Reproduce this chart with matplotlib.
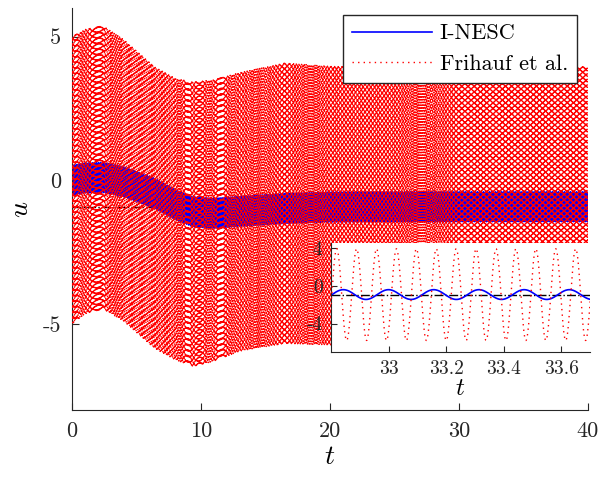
import numpy as np
import matplotlib.pyplot as plt

plt.rcParams['font.family'] = 'serif'
plt.rcParams['font.serif'] = ['cmr10']
plt.rcParams['mathtext.fontset'] = 'cm'
plt.rcParams['axes.unicode_minus'] = False
plt.rcParams['axes.formatter.use_mathtext'] = True

# === ENVELOPE KNOTS ===
t_knots = [0, 1, 2.4, 4, 6.4, 8, 9.4, 11, 13, 16.5, 20, 25, 30, 40]

# Frihauf et al. (red): slow centre + dither amplitude
red_center = [0.0, 0.3, 0.45, 0.0, -0.95, -1.35, -1.53, -1.4, -1.1, -0.8, -0.88, -0.95, -0.93, -0.92]
red_amp = [5.0, 4.95, 4.93, 4.9, 4.9, 4.9, 4.95, 4.9, 4.85, 4.88, 4.85, 4.85, 4.88, 4.88]

# I-NESC (blue)
blue_center = [0.0, 0.08, 0.1, -0.05, -0.45, -0.85, -1.1, -1.15, -1.08, -0.98, -0.93, -0.92, -0.92, -0.92]
blue_amp = [0.52] * len(t_knots)

# dither frequencies (rad/s) and peak times
red_omega, red_tpk = 90.8, 32.82
blue_omega, blue_tpk = 40.0, 33.0

u_star = -0.92

# === BUILD SIGNALS ===
t = np.arange(0, 40.0005, 0.001)
u_red = np.interp(t, t_knots, red_center) + np.interp(t, t_knots, red_amp) * np.cos(red_omega * (t - red_tpk))
u_blue = np.interp(t, t_knots, blue_center) + np.interp(t, t_knots, blue_amp) * np.cos(blue_omega * (t - blue_tpk))

dotted = (0, (1, 3))
spine_col = '#262626'

fig = plt.figure(figsize=(6.02, 4.8), dpi=100)
ax = fig.add_axes([0.1196, 0.1458, 0.857, 0.8375])

ax.plot(t, u_blue, color='blue', lw=1.2, label='I-NESC', zorder=2)
ax.plot(t, u_red, color='red', lw=1.0, ls=dotted, label='Frihauf et al.', zorder=3)
ax.axhline(u_star, color='k', lw=1.0, ls='-.', zorder=1)

ax.set_xlim(0, 40)
ax.set_ylim(-8, 6)
ax.set_xticks([0, 10, 20, 30, 40], ['0', '10', '20', '30', '40'])
ax.set_yticks([-5, 0, 5], ['-5', '0', '5'])
ax.tick_params(direction='in', length=5, width=0.8, labelsize=16, pad=8, colors=spine_col)
for side in ['top', 'right']:
    ax.spines[side].set_visible(False)
for side in ['left', 'bottom']:
    ax.spines[side].set_color(spine_col)
ax.set_xlabel('$t$', fontsize=20, labelpad=2)
ax.set_ylabel('$u$', fontsize=20, labelpad=6)

leg = ax.legend(loc='upper right', bbox_to_anchor=(0.979, 0.983), borderaxespad=0,
                fontsize=16, handlelength=3.6, handletextpad=0.35, fancybox=False,
                framealpha=1, edgecolor=spine_col)
leg.get_frame().set_linewidth(1.0)

# === INSET ===
axi = fig.add_axes([0.5498, 0.2673, 0.4302, 0.2271])
axi.plot(t, u_blue, color='blue', lw=1.2, zorder=2)
axi.plot(t, u_red, color='red', lw=1.0, ls=dotted, zorder=3)
axi.axhline(u_star, color='k', lw=1.0, ls='-.', zorder=1)
axi.set_xlim(32.8, 33.7)
axi.set_ylim(-7, 4.6)
axi.set_xticks([33, 33.2, 33.4, 33.6], ['33', '33.2', '33.4', '33.6'])
axi.set_yticks([-4, 0, 4], ['-4', '0', '4'])
axi.tick_params(direction='in', length=4, width=0.8, labelsize=14, pad=6, colors=spine_col)
for side in ['top', 'right']:
    axi.spines[side].set_visible(False)
for side in ['left', 'bottom']:
    axi.spines[side].set_color(spine_col)
axi.set_xlabel('$t$', fontsize=18, labelpad=0)

fig.savefig('out.png', dpi=100)
